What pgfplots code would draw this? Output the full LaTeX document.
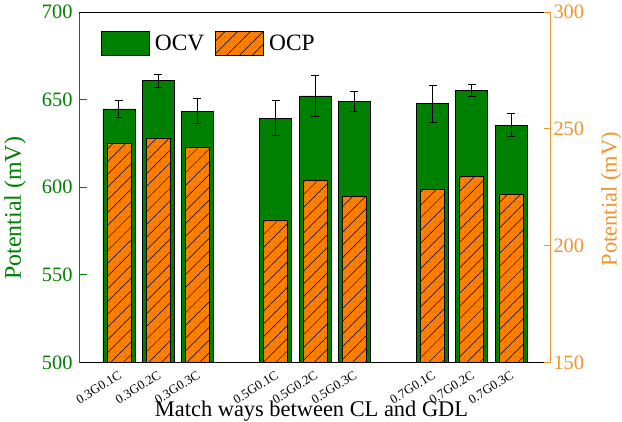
\documentclass[border=0pt]{standalone}
\usepackage{fontspec}
\setmainfont{Liberation Serif}
\usepackage{pgfplots}
\usepackage{pgfplotstable}
\pgfplotsset{compat=1.18}
\usetikzlibrary{patterns.meta}

\definecolor{ocvgreen}{RGB}{0,128,0}
\definecolor{ocpfill}{RGB}{255,128,0}
\definecolor{ocpaxis}{RGB}{237,150,50}

% open-circuit voltage (left scale) with error
\pgfplotstableread{
x  ocv    err
0  644.7  4.7
1  660.8  3.8
2  643.5  7.4
4  639.5  10.0
5  652.1  11.5
6  649.2  5.7
8  647.7  10.5
9  655.1  3.5
10 635.5  6.6
}\ocvdata

% open-circuit potential (right scale)
\pgfplotstableread{
x  ocp
0  243.9
1  246.1
2  241.9
4  211.0
5  227.8
6  221.0
8  224.0
9  229.8
10 221.8
}\ocpdata

\tikzset{
  ocpbar/.style={fill=ocpfill, draw=black, line width=0.8bp,
    postaction={pattern={Lines[angle=45,distance=9bp,line width=0.5bp]}, pattern color=black},
    postaction={pattern={Dots[distance=5bp,radius=0.35bp]}, pattern color=black}},
  ocvbar/.style={fill=ocvgreen, draw=black, line width=0.8bp},
}
\pgfplotsset{
  boxlegend/.style={legend image code/.code={\draw[##1] (0bp,-12bp) rectangle (48bp,12bp);}},
}

\newcommand{\tickfont}{\fontsize{20.5}{23}\selectfont}

\begin{document}
\begin{tikzpicture}
\useasboundingbox (-79bp,-59.5bp) rectangle (543bp,362.5bp);

\begin{axis}[
  scale only axis, width=465bp, height=350.5bp,
  xmin=-1.02, xmax=10.84, ymin=500, ymax=700,
  axis x line*=bottom, axis y line*=left,
  x axis line style={-, black, line width=0.8bp},
  y axis line style={-, ocvgreen, line width=0.8bp},
  /pgf/number format/assume math mode=true,
  ytick={500,550,...,700},
  xtick={0,1,2,4,5,6,8,9,10},
  xticklabels={0.3G0.1C,0.3G0.2C,0.3G0.3C,0.5G0.1C,0.5G0.2C,0.5G0.3C,0.7G0.1C,0.7G0.2C,0.7G0.3C},
  tick align=inside, major tick length=8bp,
  ytick style={ocvgreen, line width=0.8bp},
  xtick style={draw=none},
  yticklabel style={ocvgreen, font=\tickfont, xshift=-3bp},
  xticklabel style={rotate=32, anchor=north east, font=\fontsize{13}{14}\selectfont, black, inner sep=1bp, xshift=-4bp, yshift=-5bp},
  ylabel={Potential (mV)},
  ylabel shift=9bp,
  ylabel style={ocvgreen, font=\fontsize{24}{26}\selectfont, at={(ticklabel cs:0.44)}},
  xlabel={Match ways between CL and GDL},
  xlabel style={font=\fontsize{22.5}{24}\selectfont, black,
    at={(axis description cs:0.5,0)}, anchor=base, inner sep=0pt, yshift=-54bp},
]
\addplot[ybar, bar width=32bp, bar shift=0pt, ocvbar,
  error bars/.cd, y dir=both, y explicit,
  error bar style={black, line width=1bp},
  error mark options={rotate=90, mark size=4bp, black, line width=1bp}]
  table[x=x, y=ocv, y error=err]{\ocvdata};
\draw[black, line width=0.8bp] (rel axis cs:0,1) -- (rel axis cs:1,1);
\end{axis}

\begin{axis}[
  scale only axis, width=471bp, height=350.5bp,
  xmin=-1.02, xmax=10.995, ymin=150, ymax=300,
  axis x line=none, axis y line*=right,
  y axis line style={-, ocpaxis, line width=0.8bp},
  /pgf/number format/assume math mode=true,
  ytick={150,200,250,300},
  tick align=inside, major tick length=6bp,
  ytick style={ocpaxis, line width=0.8bp},
  yticklabel style={ocpaxis, font=\tickfont},
  ylabel={Potential (mV)},
  ylabel shift=10bp,
  ylabel style={ocpaxis, font=\fontsize{22.5}{24}\selectfont, at={(ticklabel cs:0.466)}},
  legend columns=2,
  legend style={at={(rel axis cs:0,1)}, anchor=north west, xshift=19bp, yshift=-17bp,
    draw=none, fill=none, font=\fontsize{23.5}{25}\selectfont,
    /tikz/every odd column/.append style={column sep=3bp},
    /tikz/every even column/.append style={column sep=9bp}},
]
\addlegendimage{boxlegend, ocvbar}
\addlegendentry{OCV}
\addlegendimage{boxlegend, ocpbar}
\addlegendentry{OCP}
\addplot[ybar, bar width=24bp, bar shift=0pt, ocpbar, forget plot]
  table[x=x, y=ocp]{\ocpdata};
\end{axis}
\end{tikzpicture}
\end{document}
